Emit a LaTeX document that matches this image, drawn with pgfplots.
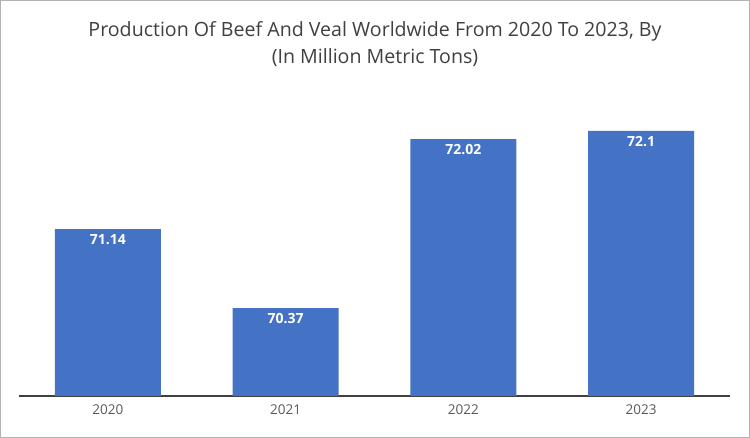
\documentclass[border=0pt]{standalone}
\usepackage{pgfplots}
\pgfplotsset{compat=1.18}
\usepackage{pgfplotstable}
\usepackage{fontspec}
\setmainfont{Open Sans}
\definecolor{barblue}{HTML}{4472C4}
\definecolor{titlegray}{HTML}{404040}
\definecolor{tickgray}{HTML}{595959}
\pgfplotstableread{
x val lab
0 71.14 71.14
1 70.37 70.37
2 72.02 72.02
3 72.1 72.1
}\datatab
\begin{document}
\begin{tikzpicture}[x=1pt,y=1pt]
\fill[white] (0,0) rectangle (750,438);
\draw[black!30, line width=1.2pt] (0.8,0.8) rectangle (749.2,437.2);
\node[anchor=base, font=\fontsize{19.6}{22}\selectfont, text=titlegray, inner sep=0] at (375,438-36.5) {Production Of Beef And Veal Worldwide From 2020 To 2023, By};
\node[anchor=base, font=\fontsize{19.6}{22}\selectfont, text=titlegray, inner sep=0] at (375,438-63.5) {(In Million Metric Tons)};
\begin{axis}[
  at={(19pt,42pt)}, anchor=south west,
  scale only axis, width=711pt, height=336pt,
  xmin=-0.5, xmax=3.5, ymin=69.51, ymax=72.794,
  axis x line=bottom, axis y line=none,
  x axis line style={-, line width=1.6pt, color=black!75},
  xtick=data, xticklabels={2020,2021,2022,2023},
  major tick length=0pt,
  xticklabel style={font=\fontsize{13.5}{16}\selectfont, text=tickgray, yshift=-5.5pt},
  /pgf/number format/assume math mode=true,
  ybar, bar width=106pt,
  clip=false,
  point meta=explicit symbolic,
  nodes near coords,
  nodes near coords style={anchor=north, font=\fontsize{14}{16}\selectfont\bfseries, text=white, yshift=-5pt, inner sep=0pt},
]
\addplot[fill=barblue, draw=none] table[x=x, y=val, meta=lab] {\datatab};
\end{axis}
\end{tikzpicture}
\end{document}
